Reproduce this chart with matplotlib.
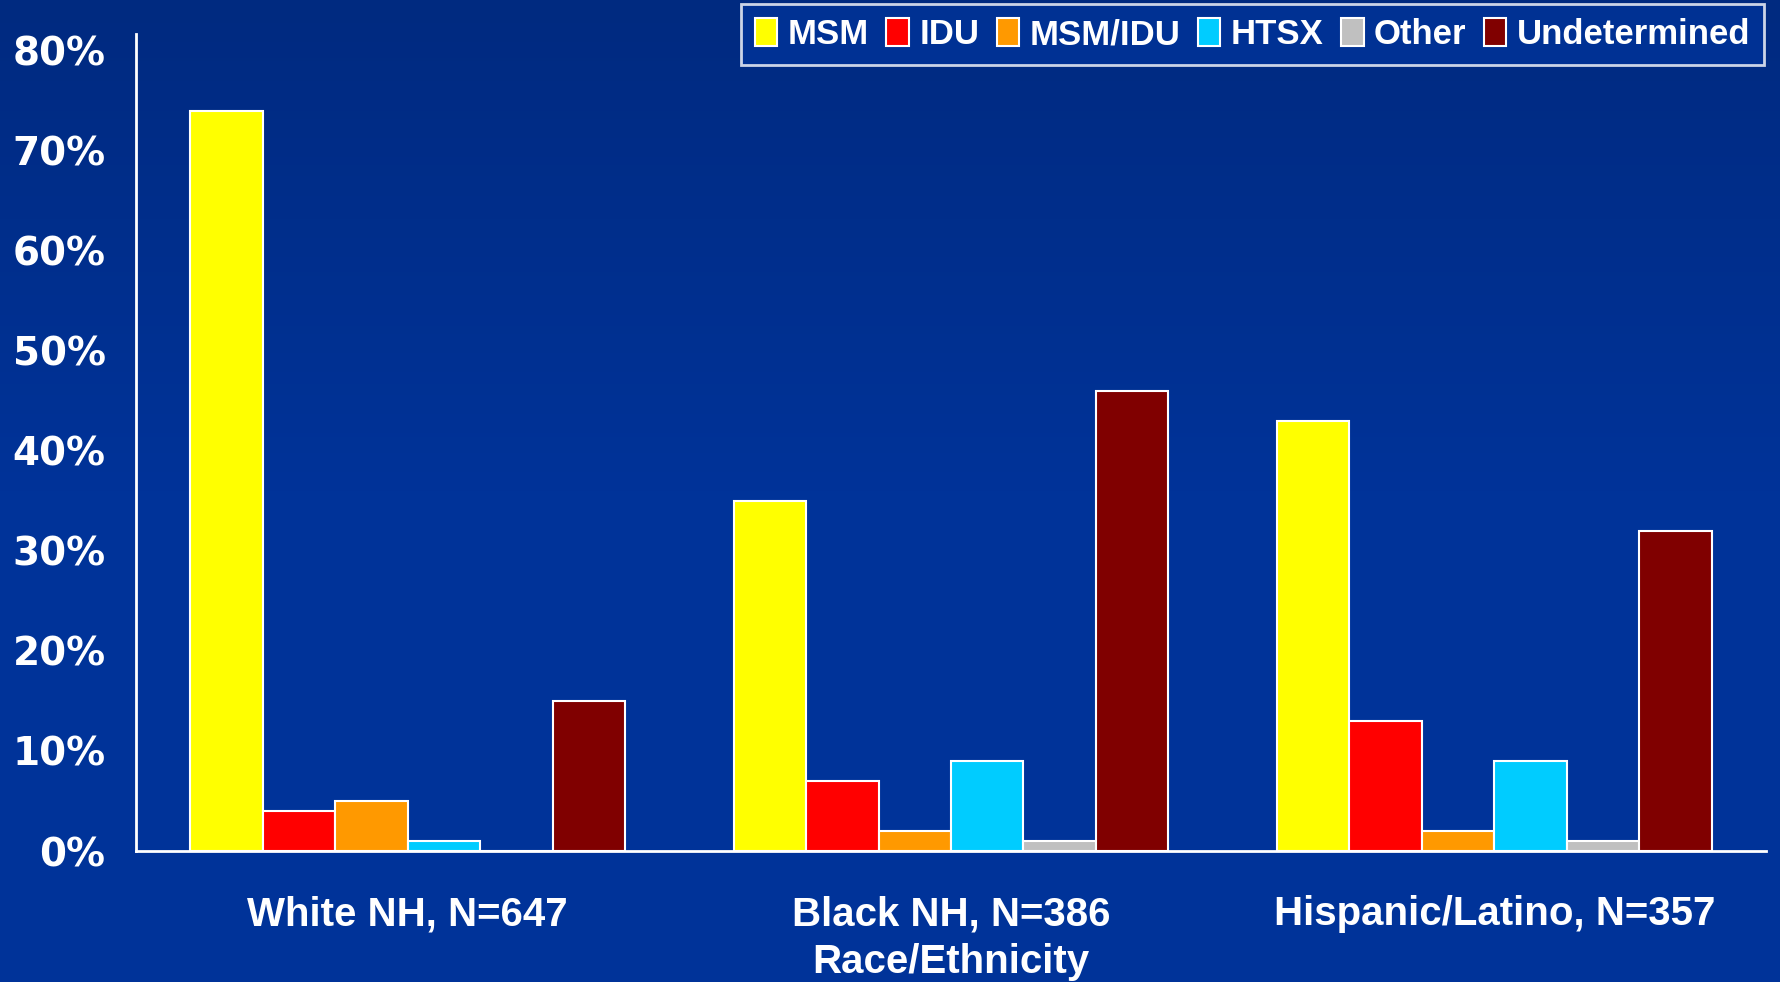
import matplotlib
matplotlib.use('Agg')
import matplotlib.pyplot as plt
from matplotlib.colors import LinearSegmentedColormap
import numpy as np

groups = ['White NH, N=647', 'Black NH, N=386', 'Hispanic/Latino, N=357']
series = ['MSM', 'IDU', 'MSM/IDU', 'HTSX', 'Other', 'Undetermined']
colors = ['#FFFF00', '#FF0000', '#FF9900', '#00CCFF', '#C0C0C0', '#800000']

msm = [74, 35, 43]
idu = [4, 7, 13]
msm_idu = [5, 2, 2]
htsx = [1, 9, 9]
other = [0, 1, 1]
undetermined = [15, 46, 32]
values = [msm, idu, msm_idu, htsx, other, undetermined]

BG = '#003399'

fig = plt.figure(figsize=(17.81, 9.82), dpi=100)
fig.patch.set_facecolor(BG)

# subtle vertical gradient, darker at the top
bg = fig.add_axes([0, 0, 1, 1], zorder=-10)
grad = np.linspace(0, 1, 256).reshape(-1, 1)
cmap = LinearSegmentedColormap.from_list('bg', ['#002a80', '#003399', '#003399'])
bg.imshow(grad, aspect='auto', cmap=cmap, extent=[0, 1, 0, 1], origin='upper')
bg.axis('off')

ax = fig.add_axes([0.0764, 0.1334, 0.9152, 0.832])
ax.set_facecolor('none')

x = np.arange(len(groups))
w = 0.8 / len(series)
for i, (name, vals) in enumerate(zip(series, values)):
    ax.bar(x - 0.4 + w * (i + 0.5), np.array(vals) / 100, w, color=colors[i],
           edgecolor='white', linewidth=1.5, label=name)

ax.set_xlim(-0.5, 2.5)
ax.set_ylim(0, 0.817)
ticks = np.arange(0, 0.81, 0.1)
ax.set_yticks(ticks)
ax.set_yticklabels([f'{int(round(t * 100))}%' for t in ticks],
                   family='DejaVu Sans', fontweight='bold', fontsize=28, color='white')
ax.set_xticks(x)
ax.set_xticklabels(groups, family='Liberation Sans', fontweight='bold', fontsize=29, color='white')
ax.tick_params(axis='y', length=0, pad=22)
ax.tick_params(axis='x', length=0, pad=32)
ax.set_xlabel('Race/Ethnicity', family='Liberation Sans', fontweight='bold', fontsize=29,
              color='white', labelpad=7)

for s in ['top', 'right']:
    ax.spines[s].set_visible(False)
for s in ['left', 'bottom']:
    ax.spines[s].set_color('white')
    ax.spines[s].set_linewidth(2)

leg = fig.legend(loc='upper right', bbox_to_anchor=(0.9925, 0.999), ncol=6,
                 prop={'family': 'Liberation Sans', 'weight': 'bold', 'size': 25},
                 frameon=True, fancybox=False, facecolor=BG, edgecolor='white',
                 handlelength=0.65, handleheight=0.85, handletextpad=0.3, columnspacing=0.5,
                 borderpad=0.4, borderaxespad=0.1)
leg.get_frame().set_linewidth(2)
for t in leg.get_texts():
    t.set_color('white')

fig.savefig('out.png', dpi=100, facecolor=fig.get_facecolor())
